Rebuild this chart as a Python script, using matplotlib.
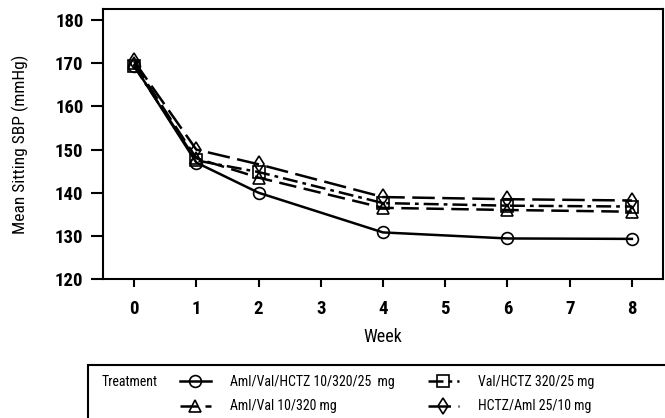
import matplotlib
matplotlib.use('Agg')
import matplotlib.pyplot as plt
import matplotlib.patches as patches

# data
weeks = [0, 1, 2, 4, 6, 8]
aml_val_hctz = [169.5, 147.0, 140.0, 130.8, 129.4, 129.3]
aml_val = [170.0, 148.0, 143.5, 136.5, 136.0, 135.6]
val_hctz = [169.3, 147.5, 144.8, 137.6, 137.0, 136.8]
hctz_aml = [170.5, 150.0, 146.6, 139.0, 138.5, 138.2]

labels = ['Aml/Val/HCTZ 10/320/25  mg', 'Aml/Val 10/320 mg',
          'Val/HCTZ 320/25 mg', 'HCTZ/Aml 25/10 mg']
xticks = [0, 1, 2, 3, 4, 5, 6, 7, 8]
yticks = [120, 130, 140, 150, 160, 170, 180]

plt.rcParams['font.family'] = ['Roboto Condensed', 'Liberation Sans', 'DejaVu Sans']

fig = plt.figure(figsize=(6.65, 4.18), dpi=100)
fig.patch.set_facecolor('white')
ax = fig.add_axes([103 / 665, 1 - 279 / 418, 560 / 665, 270 / 418])

styles = [
    dict(marker='o', linestyle='-'),
    dict(marker='^', linestyle=(0, (7, 3))),
    dict(marker='s', linestyle=(0, (6, 2, 1.5, 2))),
    dict(marker='d', linestyle=(0, (9, 3))),
]
series = [aml_val_hctz, aml_val, val_hctz, hctz_aml]

handles = []
for vals, st, lab in zip(series, styles, labels):
    h, = ax.plot(weeks, vals, color='black', linewidth=1.8, markersize=8.5,
                 markerfacecolor='none', markeredgecolor='black',
                 markeredgewidth=1.2, label=lab, **st)
    handles.append(h)

ax.set_xlim(-0.5, 8.5)
ax.set_ylim(120, 182.6)
ax.set_xticks(xticks)
ax.set_yticks(yticks)
ax.tick_params(axis='both', direction='out', width=1.5, labelsize=13.5)
ax.tick_params(axis='x', length=6, pad=9)
ax.tick_params(axis='y', length=9, pad=5)
for lab in ax.get_xticklabels() + ax.get_yticklabels():
    lab.set_fontweight('bold')
for sp in ax.spines.values():
    sp.set_linewidth(1.5)
ax.set_xlabel('Week', fontsize=13, labelpad=7)
ax.set_ylabel('Mean Sitting SBP (mmHg)', fontsize=12.5, labelpad=19)

# legend box below the plot
box = patches.Rectangle((88 / 665, -0.01), 580 / 665, 57 / 418, transform=fig.transFigure,
                        fill=False, edgecolor='black', linewidth=1.5, clip_on=False)
fig.patches.append(box)
fig.text(102 / 665, 1 - 382 / 418, 'Treatment', fontsize=10, va='center', ha='left')

common = dict(loc='upper left', frameon=False, fontsize=10, handlelength=2.2,
              handletextpad=1.4, labelspacing=0.75, borderpad=0, borderaxespad=0)
leg1 = fig.legend(handles[:2], labels[:2], bbox_to_anchor=(180 / 665, 1 - 375 / 418), **common)
leg2 = fig.legend(handles[2:], labels[2:], bbox_to_anchor=(428 / 665, 1 - 375 / 418), **common)

fig.savefig('out.png', dpi=100)
